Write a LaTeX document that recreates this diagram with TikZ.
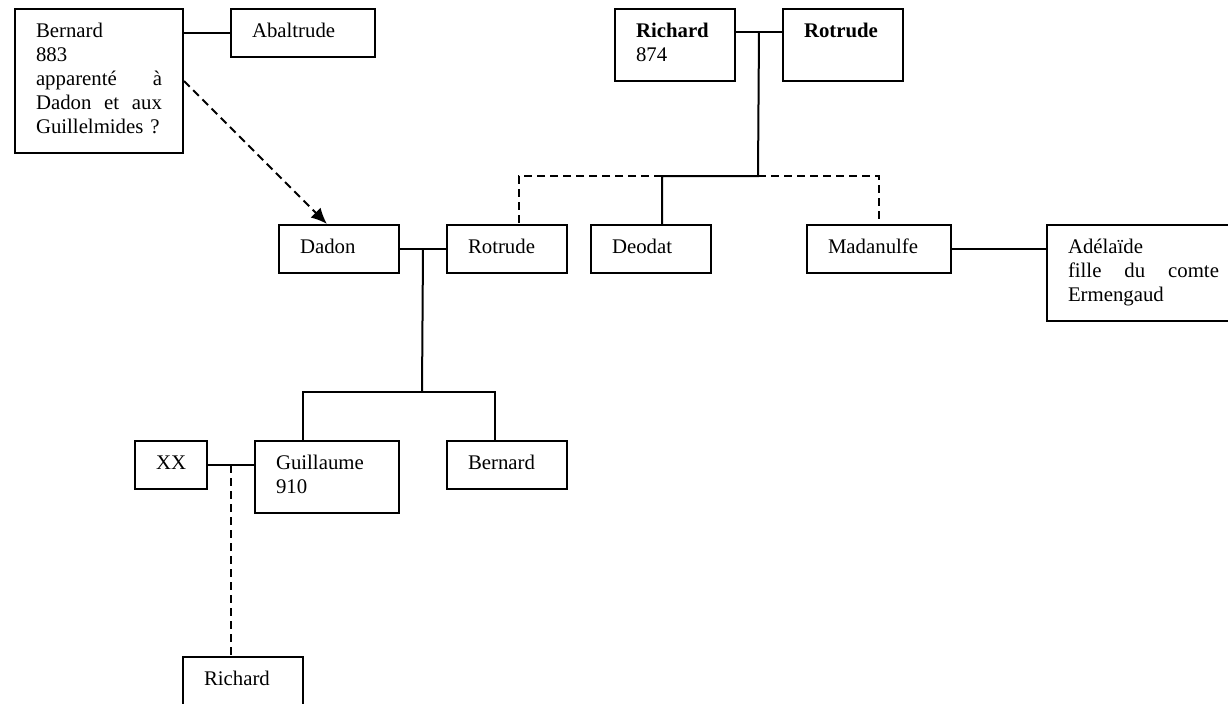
\documentclass[tikz,border=0pt]{standalone}
\usepackage{fontspec}
\setmainfont{Liberation Serif}
\usetikzlibrary{arrows.meta}
\tikzset{
  personne/.style={draw, anchor=north west, align=left,
    inner xsep=10.5pt, inner ysep=6pt,
    font=\fontsize{10.4}{12}\selectfont,
    execute at begin node=\strut, execute at end node=\strut},
  incertain/.style={dash pattern=on 4pt off 2.5pt},
}
\begin{document}
\begin{tikzpicture}[x=0.5pt, y=-0.5pt, line width=1pt]
  \clip (0,0) rectangle (1228,703);
  % premiere generation
  \node[personne, text width=63pt] (bernardA) at (14,8)
       {Bernard\\883\\apparenté\hfill à\\Dadon\hfill et\hfill aux\\Guillelmides~?};
  \node[personne, text width=51pt] (abaltrude) at (230,8) {Abaltrude};
  \node[personne, text width=39pt] (richardA) at (614,8) {\textbf{Richard}\\874};
  \node[personne, text width=39pt] (rotrudeA) at (782,8) {\textbf{Rotrude}\\\strut};
  % deuxieme generation
  \node[personne, text width=39pt] (dadon) at (278,224) {Dadon};
  \node[personne, text width=39pt] (rotrudeB) at (446,224) {Rotrude};
  \node[personne, text width=39pt] (deodat) at (590,224) {Deodat};
  \node[personne, text width=51pt] (madanulfe) at (806,224) {Madanulfe};
  \node[personne, text width=75.5pt] (adelaide) at (1046,224)
       {Adélaïde\\fille\hfill du\hfill comte\\Ermengaud};
  % troisieme generation
  \node[personne, text width=15pt] (xx) at (134,440) {XX};
  \node[personne, text width=51pt] (guillaume) at (254,440) {Guillaume\\910};
  \node[personne, text width=39pt] (bernardB) at (446,440) {Bernard};
  \node[personne, text width=39pt] (richardB) at (182,656) {Richard};

  % unions
  \draw (bernardA.east |- abaltrude.west) -- (abaltrude.west);
  \draw ([yshift=-12pt]richardA.north east) -- coordinate[pos=.5] (union1)
        ([yshift=-12pt]rotrudeA.north west);
  \draw (dadon.east) -- coordinate[pos=.5] (union2) (rotrudeB.west);
  \draw (madanulfe.east) -- (madanulfe.east -| adelaide.west);
  \draw (xx.east) -- coordinate[pos=.5] (union3) (xx.east -| guillaume.west);

  % enfants de Richard et Rotrude
  \coordinate (fratrie1) at (758,176);
  \coordinate (branche1) at (662,176);
  \draw (union1) -- (fratrie1) -- (branche1) -- (branche1 |- deodat.north);
  \draw[incertain] (branche1) -| ([xshift=6pt]rotrudeB.north);
  \draw[incertain] (fratrie1) -| (madanulfe.north);

  % enfants de Dadon et Rotrude
  \coordinate (fratrie2) at (422,392);
  \draw (union2) -- (fratrie2);
  \draw ([xshift=-12pt]guillaume.north) |- (fratrie2) -| ([xshift=-6pt]bernardB.north);

  % descendance
  \draw[incertain] (union3) -- (union3 |- richardB.north);
  \draw[incertain, -{Latex[length=8pt, width=7pt]}] (bernardA.east) -- ([xshift=-6pt]dadon.north);
\end{tikzpicture}
\end{document}
